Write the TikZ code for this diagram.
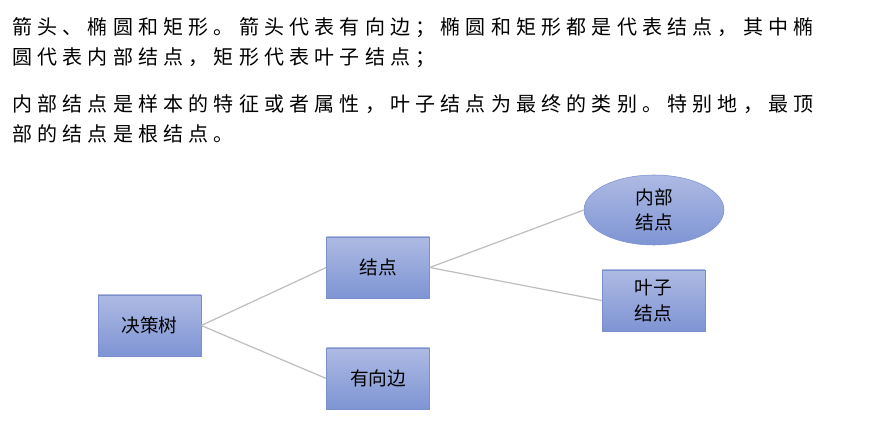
\documentclass[tikz,border=0pt]{standalone}
\usepackage{fontspec}
\setmainfont{Noto Sans CJK SC}
\usetikzlibrary{shapes.geometric}
\definecolor{boxtop}{HTML}{AEBAE3}
\definecolor{boxbot}{HTML}{7E94D4}
\definecolor{boxline}{HTML}{7A8FCC}
\definecolor{edgegray}{HTML}{BDBDBD}
\tikzset{
  leaf/.style={rectangle, draw=boxline, top color=boxtop, bottom color=boxbot,
    minimum width=103*0.75pt, minimum height=61*0.75pt, inner sep=1pt,
    align=center, font=\fontsize{14}{19}\selectfont},
  inner/.style={leaf, ellipse, minimum width=140*0.75pt, minimum height=70*0.75pt},
  edge/.style={draw=edgegray, line width=0.9pt},
  para/.style={anchor=west, inner sep=0pt, font=\fontsize{15}{18}\selectfont\addfontfeature{LetterSpace=26}}
}
\begin{document}
\begin{tikzpicture}[x=0.75pt,y=-0.75pt]
	\useasboundingbox (0,0) rectangle (894,431);
	%paragraph
	\node[para] (p1) at (12,28)  {箭头、椭圆和矩形。箭头代表有向边；椭圆和矩形都是代表结点，其中椭};
	\node[para] (p2) at (12,58)  {圆代表内部结点，矩形代表叶子结点；};
	\node[para] (p3) at (12,104) {内部结点是样本的特征或者属性，叶子结点为最终的类别。特别地，最顶};
	\node[para] (p4) at (12,134) {部的结点是根结点。};

	%tree nodes
	\node[leaf]  (root) at (149.5,325.5) {决策树};
	\node[leaf]  (node) at (378,267.5)   {结点};
	\node[leaf]  (edge) at (378,378.5)   {有向边};
	\node[inner] (int)  at (654,210)     {内部\\结点};
	\node[leaf]  (lf)   at (653.5,300.5) {叶子\\结点};

	%connectors
	\draw[edge] (root.east) -- (node.west);
	\draw[edge] (root.east) -- (edge.west);
	\draw[edge] (node.east) -- (int.west);
	\draw[edge] (node.east) -- (lf.west);
\end{tikzpicture}
\end{document}
